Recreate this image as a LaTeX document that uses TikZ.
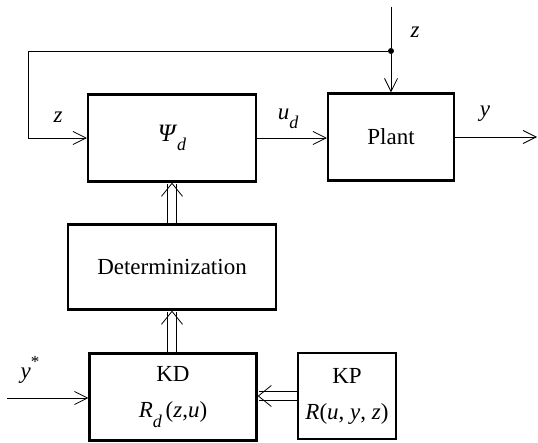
\documentclass[tikz,border=0pt]{standalone}
\usepackage{fontspec}
\setmainfont{Liberation Serif}
\usetikzlibrary{arrows.meta}
\newcommand{\lowsub}[1]{\raisebox{-0.4em}{\fontsize{18}{18}\selectfont\itshape #1}}
\tikzset{
  block/.style={draw, line width=2.4pt, inner sep=0pt, align=center},
  sig/.style={line width=0.8pt, -{Straight Barb[length=13pt,width=13pt]}},
  dblsig/.style={line width=0.8pt, double, double distance=8.5pt, -{Straight Barb[length=13pt,width=21pt]}},
  lbl/.style={inner sep=0pt}
}
\begin{document}
\begin{tikzpicture}[x=1pt,y=-1pt,font=\fontsize{23}{36}\selectfont]
	\useasboundingbox (0,0) rectangle (538,443);
	% blocks
	\node[block, minimum width=168pt, minimum height=87pt] (psi) at (172,138) {{\fontsize{25}{25}\selectfont\textit{Ψ}}\lowsub{d}};
	\node[block, minimum width=126pt, minimum height=87pt] (plant) at (391,137) {Plant};
	\node[block, minimum width=208pt, minimum height=85pt] (det) at (172,267) {Determinization};
	\node[block, minimum width=167pt, minimum height=87pt] (kd) at (173,397) {KD\\\textit{R}\lowsub{d}\,(\textit{z},\textit{u})};
	\node[block, minimum width=98pt, minimum height=86pt] (kp) at (347,396) {KP\\\textit{R}(\textit{u}, \textit{y}, \textit{z})};
	
	% free ends
	\coordinate (ztop) at (391,7);
	\node[circle, fill, inner sep=0pt, minimum size=6pt] (dot) at (391,51) {};
	\coordinate (fbk) at (28,51);
	\coordinate (yout) at (537,137);
	\coordinate (yin) at (7,398);
	
	% signals
	\draw[line width=0.8pt] (ztop) -- (dot);
	\draw[sig] (dot) -- (plant.north);
	\draw[sig] (dot) -- (fbk) |- (psi.west);
	\draw[sig] (psi.east) -- (psi.east -| plant.west);
	\draw[sig] (plant.east) -- (yout);
	\draw[sig] (yin) -- (yin -| kd.west);
	
	% knowledge flows
	\draw[dblsig] (det.north) -- (psi.south);
	\draw[dblsig] (kd.north -| det.south) -- (det.south);
	\draw[dblsig] (kp.west) -- (kp.west -| kd.east);
	
	% labels
	\node[lbl] (lz1) at (415,32) {\textit{z}};
	\node[lbl] (lz2) at (58,117) {\textit{z}};
	\node[lbl] (lud) at (288,119) {\textit{u}\lowsub{d}};
	\node[lbl] (ly) at (485,114) {\textit{y}};
	\node[lbl] (lys) at (30,370) {\textit{y}\raisebox{0.5em}{\fontsize{17}{17}\selectfont *}};
\end{tikzpicture}
\end{document}
